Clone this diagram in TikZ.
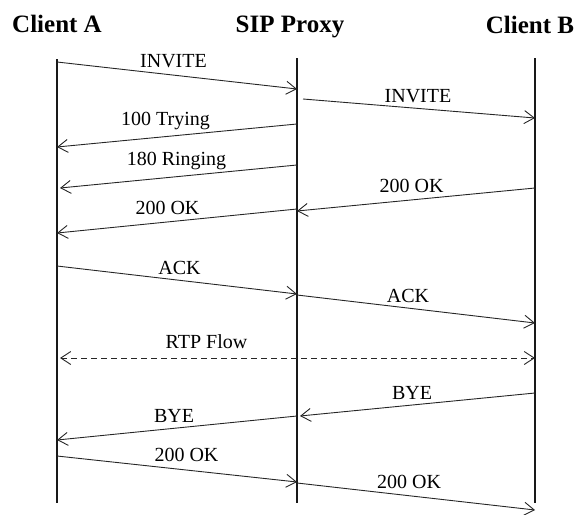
\documentclass[tikz,border=0pt]{standalone}
\usepackage{fontspec}
\setmainfont{Liberation Serif}
\usetikzlibrary{arrows.meta}

\begin{document}
\begin{tikzpicture}[x=1pt,y=-1pt,
  head/.style={font=\bfseries\fontsize{25}{30}\selectfont, inner sep=0pt, anchor=base},
  lbl/.style={font=\fontsize{20}{24}\selectfont, inner sep=0pt, anchor=base},
  life/.style={draw=black!90, line width=1.1pt},
  msg/.style={draw=black!85, line width=0.9pt, -{Straight Barb[length=10pt,width=13pt]}},
  flow/.style={msg, dash pattern=on 6pt off 4pt, {Straight Barb[length=10pt,width=13pt]}-{Straight Barb[length=10pt,width=13pt]}}]

\useasboundingbox (0,0) rectangle (578,514);

% party headings
\node[head] (hA) at (57,32) {Client A};
\node[head] (hP) at (290,32) {SIP Proxy};
\node[head] (hB) at (530,33) {Client B};

% lifelines
\coordinate (Atop) at (57,59);  \coordinate (Abot) at (57,503);
\coordinate (Ptop) at (297,58); \coordinate (Pbot) at (297,503);
\coordinate (Btop) at (535,58); \coordinate (Bbot) at (535,503);
\draw[life] (Atop) -- (Abot);
\draw[life] (Ptop) -- (Pbot);
\draw[life] (Btop) -- (Bbot);

% message end points
\coordinate (m1s) at (57,62);   \coordinate (m1e) at (297,89);
\coordinate (m2s) at (303,99);  \coordinate (m2e) at (535,118);
\coordinate (m3s) at (297,124); \coordinate (m3e) at (57,147);
\coordinate (m4s) at (297,165); \coordinate (m4e) at (60,188);
\coordinate (m5s) at (535,188); \coordinate (m5e) at (297,211);
\coordinate (m6s) at (297,209); \coordinate (m6e) at (57,233);
\coordinate (m7s) at (57,266);  \coordinate (m7e) at (297,294);
\coordinate (m8s) at (297,295); \coordinate (m8e) at (535,323);
\coordinate (m9s) at (60,358);  \coordinate (m9e) at (535,358);
\coordinate (m10s) at (535,393); \coordinate (m10e) at (300,416);
\coordinate (m11s) at (297,416); \coordinate (m11e) at (57,440);
\coordinate (m12s) at (57,456);  \coordinate (m12e) at (297,482);
\coordinate (m13s) at (297,483); \coordinate (m13e) at (535,510);

% messages
\draw[msg] (m1s) -- (m1e);
\draw[msg] (m2s) -- (m2e);
\draw[msg] (m3s) -- (m3e);
\draw[msg] (m4s) -- (m4e);
\draw[msg] (m5s) -- (m5e);
\draw[msg] (m6s) -- (m6e);
\draw[msg] (m7s) -- (m7e);
\draw[msg] (m8s) -- (m8e);
\draw[flow] (m9s) -- (m9e);
\draw[msg] (m10s) -- (m10e);
\draw[msg] (m11s) -- (m11e);
\draw[msg] (m12s) -- (m12e);
\draw[msg] (m13s) -- (m13e);

% message labels
\node[lbl] (l1) at (173.5,67) {INVITE};
\node[lbl] (l2) at (418,102) {INVITE};
\node[lbl] (l3) at (165.5,125) {100 Trying};
\node[lbl] (l4) at (176.5,165) {180 Ringing};
\node[lbl] (l5) at (411.5,192) {200 OK};
\node[lbl] (l6) at (167.5,214) {200 OK};
\node[lbl] (l7) at (179.5,274) {ACK};
\node[lbl] (l8) at (408,302) {ACK};
\node[lbl] (l9) at (206.5,348) {RTP Flow};
\node[lbl] (l10) at (412,399) {BYE};
\node[lbl] (l11) at (174,422) {BYE};
\node[lbl] (l12) at (186.5,461) {200 OK};
\node[lbl] (l13) at (409,488) {200 OK};
\end{tikzpicture}
\end{document}
